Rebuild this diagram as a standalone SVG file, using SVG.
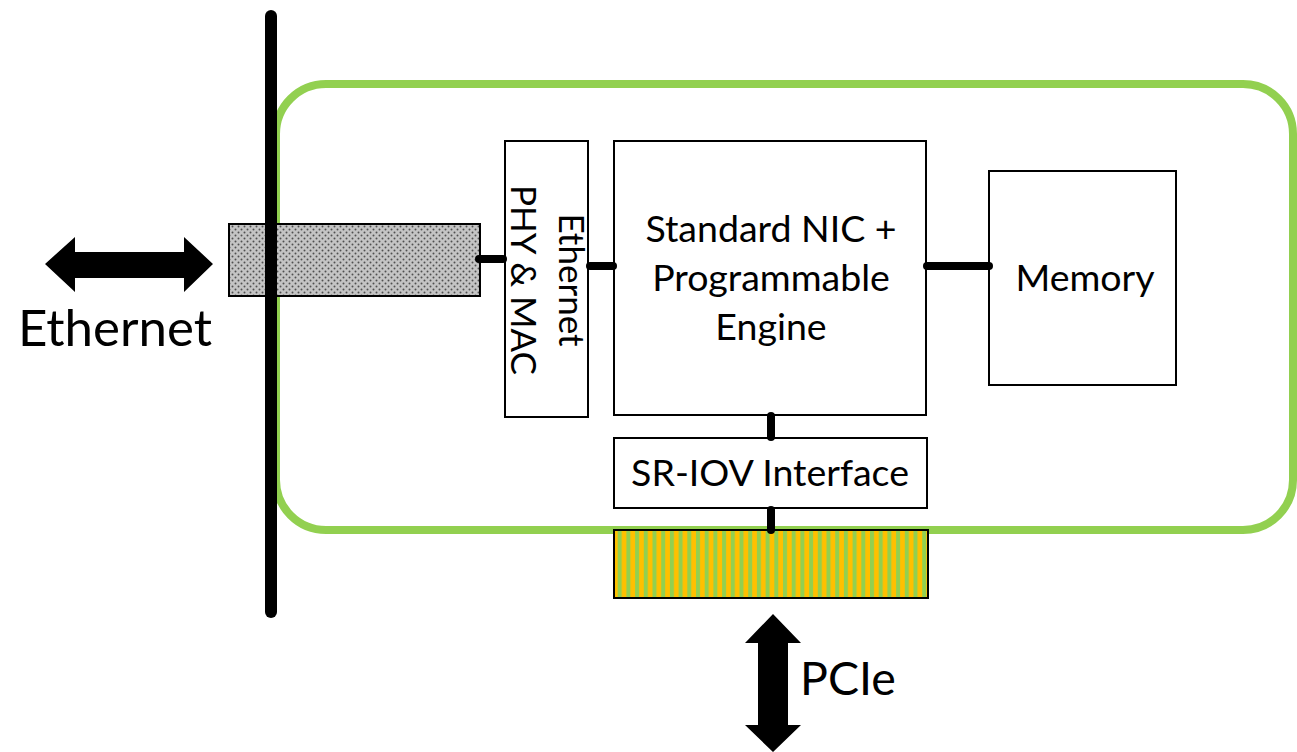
<svg xmlns="http://www.w3.org/2000/svg" width="1297" height="752" viewBox="0 0 1297 752">
  <defs>
    <pattern id="dots" width="6" height="6" patternUnits="userSpaceOnUse">
      <rect width="6" height="6" fill="#c4c4c4"/>
      <circle cx="1.5" cy="1.5" r="1" fill="#505050"/>
      <circle cx="4.5" cy="4.5" r="1" fill="#505050"/>
    </pattern>
    <pattern id="stripes" width="8.7" height="10" patternUnits="userSpaceOnUse">
      <rect width="8.7" height="10" fill="#92D050"/>
      <rect x="4" width="4.7" height="10" fill="#FFC000"/>
    </pattern>
    <style>
      .box { fill: #ffffff; stroke: #000000; stroke-width: 2; }
      .link { stroke: #000000; stroke-width: 8; stroke-linecap: round; fill: none; }
      .lbl { font-family: Lato, "Noto Sans", sans-serif; font-size: 37.5px; fill: #000000; text-anchor: middle; }
      .big { font-family: Lato, "Noto Sans", sans-serif; font-size: 50px; fill: #000000; }
    </style>
  </defs>

  <!-- card outline -->
  <g id="card">
    <rect x="276" y="84" width="1017" height="446" rx="50" ry="50" fill="none" stroke="#92D050" stroke-width="8"/>
  </g>

  <!-- Ethernet port connector -->
  <g id="eth-port">
    <rect x="229" y="224" width="251" height="72" fill="url(#dots)" stroke="#000000" stroke-width="2"/>
  </g>

  <!-- bracket -->
  <g id="bracket">
    <line x1="271" y1="16" x2="271" y2="612" stroke="#000000" stroke-width="12" stroke-linecap="round"/>
  </g>

  <g id="phy-mac">
    <rect class="box" x="505" y="141" width="83" height="276"/>
    <text class="lbl" style="font-size:35px" transform="translate(546.5,280) rotate(90)"><tspan x="0" y="-12">Ethernet</tspan><tspan x="0" y="36">PHY &amp; MAC</tspan></text>
  </g>

  <g id="nic-engine">
    <rect class="box" x="614" y="141" width="312" height="274"/>
    <text class="lbl"><tspan x="771" y="242">Standard NIC +</tspan><tspan x="771" y="291">Programmable</tspan><tspan x="771" y="340">Engine</tspan></text>
  </g>

  <g id="memory">
    <rect class="box" x="989" y="171" width="187" height="214"/>
    <text class="lbl" x="1085" y="291">Memory</text>
  </g>

  <g id="sriov">
    <rect class="box" x="614" y="438" width="313" height="70"/>
    <text class="lbl" x="770" y="486">SR-IOV Interface</text>
  </g>

  <g id="pcie-edge">
    <rect x="614" y="530" width="314" height="68" fill="url(#stripes)" stroke="#000000" stroke-width="2"/>
  </g>

  <!-- connectors -->
  <g id="connectors">
    <line class="link" x1="479" y1="259" x2="503" y2="259"/>
    <line class="link" x1="590" y1="266" x2="613" y2="266"/>
    <line class="link" x1="927" y1="266" x2="989" y2="266"/>
    <line class="link" x1="771" y1="416" x2="771" y2="437"/>
    <line class="link" x1="771" y1="510" x2="771" y2="530"/>
  </g>

  <!-- external links -->
  <g id="ethernet-link">
    <polygon points="45,264 75,237 75,252 184,252 184,237 213,264 184,292 184,278 75,278 75,292" fill="#000000"/>
    <text class="big" x="18" y="346" style="font-size:51px">Ethernet</text>
  </g>
  <g id="pcie-link">
    <polygon points="773,614 801,643 788,643 788,725 801,725 773,752 745,725 758,725 758,643 745,643" fill="#000000"/>
    <text class="big" x="800" y="695" style="font-size:46.5px">PCIe</text>
  </g>
</svg>
